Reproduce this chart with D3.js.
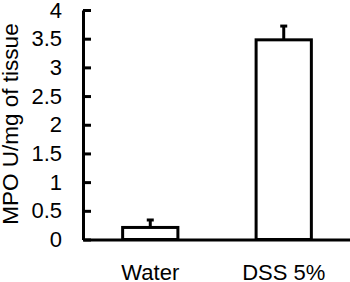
<!DOCTYPE html>
<html><head><meta charset="utf-8">
<script src="https://cdn.jsdelivr.net/npm/d3@7"></script>
<style>html,body{margin:0;padding:0;background:#fff;}svg{display:block;font-family:"Liberation Sans",Arial,sans-serif;}</style>
</head><body>
<script>
const categories = ["Water", "DSS 5%"];
const values = [0.21, 3.48];
const errors = [0.13, 0.24];
const yTicks = [0, 0.5, 1, 1.5, 2, 2.5, 3, 3.5, 4];
const yLabel = "MPO U/mg of tissue";

const W = 350, H = 282;
const svg = d3.select("body").append("svg").attr("width", W).attr("height", H);
const x0 = 83, x1 = 351, yTop = 10, yBot = 239.5;
const x = d3.scaleBand().domain(categories).range([x0, x1]).paddingInner(0.586).paddingOuter(0.297);
const y = d3.scaleLinear().domain([0, 4]).range([yBot, yTop]);

// bars
svg.selectAll("rect.bar").data(categories).enter().append("rect")
  .attr("x", d => x(d)).attr("width", x.bandwidth())
  .attr("y", (d, i) => y(values[i])).attr("height", (d, i) => yBot - y(values[i]))
  .attr("fill", "#fff").attr("stroke", "#000").attr("stroke-width", 3);

// error bars (upper)
categories.forEach((c, i) => {
  const cx = x(c) + x.bandwidth() / 2;
  svg.append("line").attr("x1", cx).attr("x2", cx)
    .attr("y1", y(values[i])).attr("y2", y(values[i] + errors[i]))
    .attr("stroke", "#000").attr("stroke-width", 3);
  svg.append("line").attr("x1", cx - 3.5).attr("x2", cx + 3.5)
    .attr("y1", y(values[i] + errors[i])).attr("y2", y(values[i] + errors[i]))
    .attr("stroke", "#000").attr("stroke-width", 3);
});

// y axis
const ya = svg.append("g").attr("transform", `translate(${x0},0)`)
  .call(d3.axisLeft(y).tickValues(yTicks).tickSizeInner(-8).tickSizeOuter(0).tickPadding(21).tickFormat(d3.format("")));
ya.select(".domain").attr("stroke", "#000").attr("stroke-width", 3);
ya.selectAll(".tick line").attr("stroke", "#000").attr("stroke-width", 3);
ya.selectAll(".tick text").attr("font-size", 22).attr("fill", "#000").attr("font-family", "Liberation Sans, Arial, sans-serif");

// x axis
const xa = svg.append("g").attr("transform", `translate(0,${yBot})`)
  .call(d3.axisBottom(x).tickSize(0).tickPadding(25));
xa.select(".domain").attr("stroke", "#000").attr("stroke-width", 3);
xa.selectAll(".tick text").attr("font-size", 22).attr("fill", "#000").attr("font-family", "Liberation Sans, Arial, sans-serif");

// y label
svg.append("text").attr("transform", `translate(18,124) rotate(-90)`)
  .attr("text-anchor", "middle").attr("font-size", 22.5).attr("fill", "#000").text(yLabel);
</script>
</body></html>
